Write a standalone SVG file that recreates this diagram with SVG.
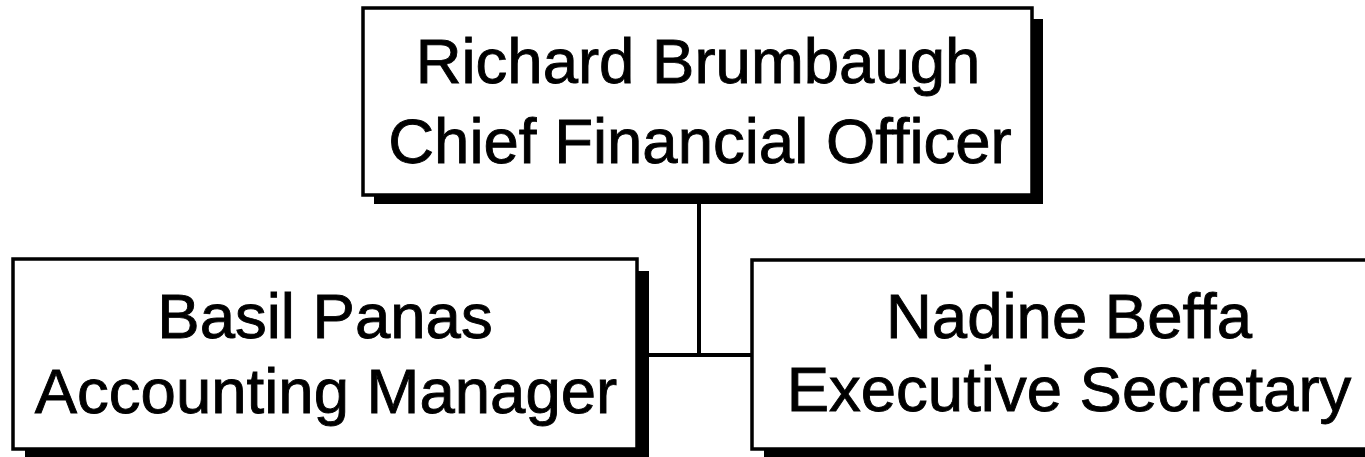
<svg xmlns="http://www.w3.org/2000/svg" width="1365" height="457" viewBox="0 0 1365 457">
<style>
.box{fill:#fff;stroke:#000;stroke-width:3.5}
.sh{fill:#000}
.t{font-family:"Liberation Sans",Arial,sans-serif;font-size:63.5px;fill:#000;stroke:#000;stroke-width:0.9;text-anchor:middle}
.c{stroke:#000;stroke-width:4;fill:none}
</style>
<rect width="1365" height="457" fill="#fff"/>
<g id="connectors">
<line class="c" x1="699" y1="195" x2="699" y2="355"/>
<line class="c" x1="645" y1="355" x2="753" y2="355"/>
</g>
<g id="node-cfo">
<rect class="sh" x="374" y="19" width="669" height="185"/>
<rect class="box" x="363" y="8" width="669" height="187"/>
<text class="t" x="698" y="83">Richard Brumbaugh</text>
<text class="t" x="700" y="163">Chief Financial Officer</text>
</g>
<g id="node-accounting">
<rect class="sh" x="25" y="271" width="624" height="190"/>
<rect class="box" x="13" y="259" width="624" height="190"/>
<text class="t" x="325" y="338">Basil Panas</text>
<text class="t" x="326" y="413">Accounting Manager</text>
</g>
<g id="node-secretary">
<rect class="sh" x="764" y="270" width="700" height="188"/>
<rect class="box" x="752" y="260" width="700" height="189"/>
<text class="t" x="1069" y="338">Nadine Beffa</text>
<text class="t" x="1069" y="411">Executive Secretary</text>
</g>
</svg>
